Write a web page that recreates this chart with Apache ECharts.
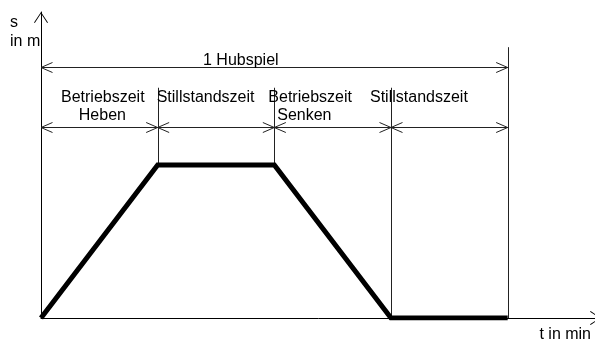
<!DOCTYPE html>
<html>
<head>
<meta charset="utf-8">
<script src="https://cdn.jsdelivr.net/npm/echarts@6/dist/echarts.min.js"></script>
<style>
  html, body { margin: 0; padding: 0; background: #fff; }
  #chart { width: 595px; height: 343px; }
</style>
</head>
<body>
<div id="chart"></div>
<script>
// Hubspiel: Weg s über Zeit t
var phaseNames = ['Betriebszeit\n    Heben', 'Stillstandszeit', 'Betriebszeit\n  Senken', 'Stillstandszeit'];
var phaseBounds = [0, 1, 2, 3, 4];
var pathT = [0, 1, 2, 3, 4];
var pathS = [0, 1, 1, 0, 0];
var cycleName = '1 Hubspiel';
var xName = 't in min';
var yName = ['s', 'in m'];

// layout (in axis units / px)
var cycleLevel = 1.64;
var phaseLevel = 1.248;
var extTop = [0, 1.505, 1.505, 1.505, 1.77];
var labelIndent = [20, -1, -6, -21];
var FONT = 'Liberation Sans, Arial, sans-serif';
var ink = '#000';
var thin = '#222';

// open arrow head, tip up, 14x11
var arrowPath = 'path://M7 0 L14 10.4 L13.2 11 L7 1.6 L0.8 11 L0 10.4 Z';

var chart = echarts.init(document.getElementById('chart'));

function thinStyle() {
  return { stroke: thin, lineWidth: 1, fill: null };
}

function renderExt(params, api) {
  var a = api.coord([api.value(0), api.value(1)]);
  var b = api.coord([api.value(0), api.value(2)]);
  var x = Math.round(a[0]) + 0.5;
  return { type: 'line', shape: { x1: x, y1: a[1], x2: x, y2: b[1] }, style: thinStyle() };
}

function renderDim(params, api) {
  var a = api.coord([api.value(0), api.value(2)]);
  var b = api.coord([api.value(1), api.value(2)]);
  var y = Math.round(a[1]) + 0.5;
  var L = 11.5, w = 5;
  return {
    type: 'group',
    children: [
      { type: 'line', shape: { x1: a[0], y1: y, x2: b[0], y2: y }, style: thinStyle() },
      { type: 'polyline', shape: { points: [[a[0] + L, y - w], [a[0], y], [a[0] + L, y + w]] }, style: thinStyle() },
      { type: 'polyline', shape: { points: [[b[0] - L, y - w], [b[0], y], [b[0] - L, y + w]] }, style: thinStyle() }
    ]
  };
}

function renderPhaseLabel(params, api) {
  var i = params.dataIndex;
  var p = api.coord([api.value(0), api.value(1)]);
  return {
    type: 'text',
    style: {
      text: phaseNames[i], x: p[0] + labelIndent[i], y: p[1] - 38.5,
      fill: ink, fontSize: 16, fontFamily: FONT, lineHeight: 18,
      align: 'left', verticalAlign: 'top'
    }
  };
}

function renderCycleLabel(params, api) {
  var p = api.coord([api.value(0), api.value(1)]);
  return {
    type: 'text',
    style: {
      text: cycleName, x: p[0] + 162, y: p[1] - 15.5,
      fill: ink, fontSize: 16, fontFamily: FONT, lineHeight: 18,
      align: 'left', verticalAlign: 'top'
    }
  };
}

var extData = [];
for (var i = 1; i < phaseBounds.length; i++) {
  extData.push([phaseBounds[i], pathS[pathT.indexOf(phaseBounds[i])], extTop[i]]);
}
var dimData = [[phaseBounds[0], phaseBounds[phaseBounds.length - 1], cycleLevel]];
var phaseData = [];
for (var j = 0; j < phaseNames.length; j++) {
  dimData.push([phaseBounds[j], phaseBounds[j + 1], phaseLevel]);
  phaseData.push([phaseBounds[j], phaseLevel]);
}

var axisBase = {
  axisTick: { show: false },
  axisLabel: { show: false },
  splitLine: { show: false },
  axisLine: {
    show: true,
    onZero: false,
    lineStyle: { color: ink, width: 1 },
    symbol: ['none', arrowPath],
    symbolSize: [14, 11],
    symbolOffset: [0, -5.5]
  }
};

var option = {
  animation: false,
  backgroundColor: '#fff',
  grid: { left: 41, right: -6, top: 12, bottom: 25, outerBoundsMode: 'none' },
  xAxis: Object.assign({
    type: 'value', min: 0, max: 4.8,
    name: xName, nameLocation: 'end', nameGap: -10,
    nameTextStyle: { color: ink, fontSize: 16, fontFamily: FONT, align: 'right', verticalAlign: 'top', padding: [9, 0, 0, 0] }
  }, axisBase),
  yAxis: Object.assign({
    type: 'value', min: 0, max: 2,
    name: yName.map(function (s) { return '{a|' + s + '}'; }).join('\n'),
    nameLocation: 'end', nameGap: -1.5,
    nameTextStyle: {
      color: ink, fontSize: 16, fontFamily: FONT, align: 'right', verticalAlign: 'top', lineHeight: 18.7,
      rich: { a: { width: 31, align: 'left', color: ink, fontSize: 16, fontFamily: FONT, lineHeight: 18.7 } }
    }
  }, axisBase),
  series: [
    { type: 'custom', renderItem: renderExt, data: extData, clip: false, silent: true, z: 2 },
    { type: 'custom', renderItem: renderDim, data: dimData, clip: false, silent: true, z: 2 },
    { type: 'custom', renderItem: renderPhaseLabel, data: phaseData, clip: false, silent: true, z: 4 },
    { type: 'custom', renderItem: renderCycleLabel, data: [[phaseBounds[0], cycleLevel]], clip: false, silent: true, z: 4 },
    {
      type: 'line',
      data: pathT.map(function (t, k) { return [t, pathS[k]]; }),
      symbol: 'none',
      lineStyle: { color: ink, width: 5, join: 'miter' },
      silent: true,
      z: 3
    }
  ]
};

chart.setOption(option);
</script>
</body>
</html>
